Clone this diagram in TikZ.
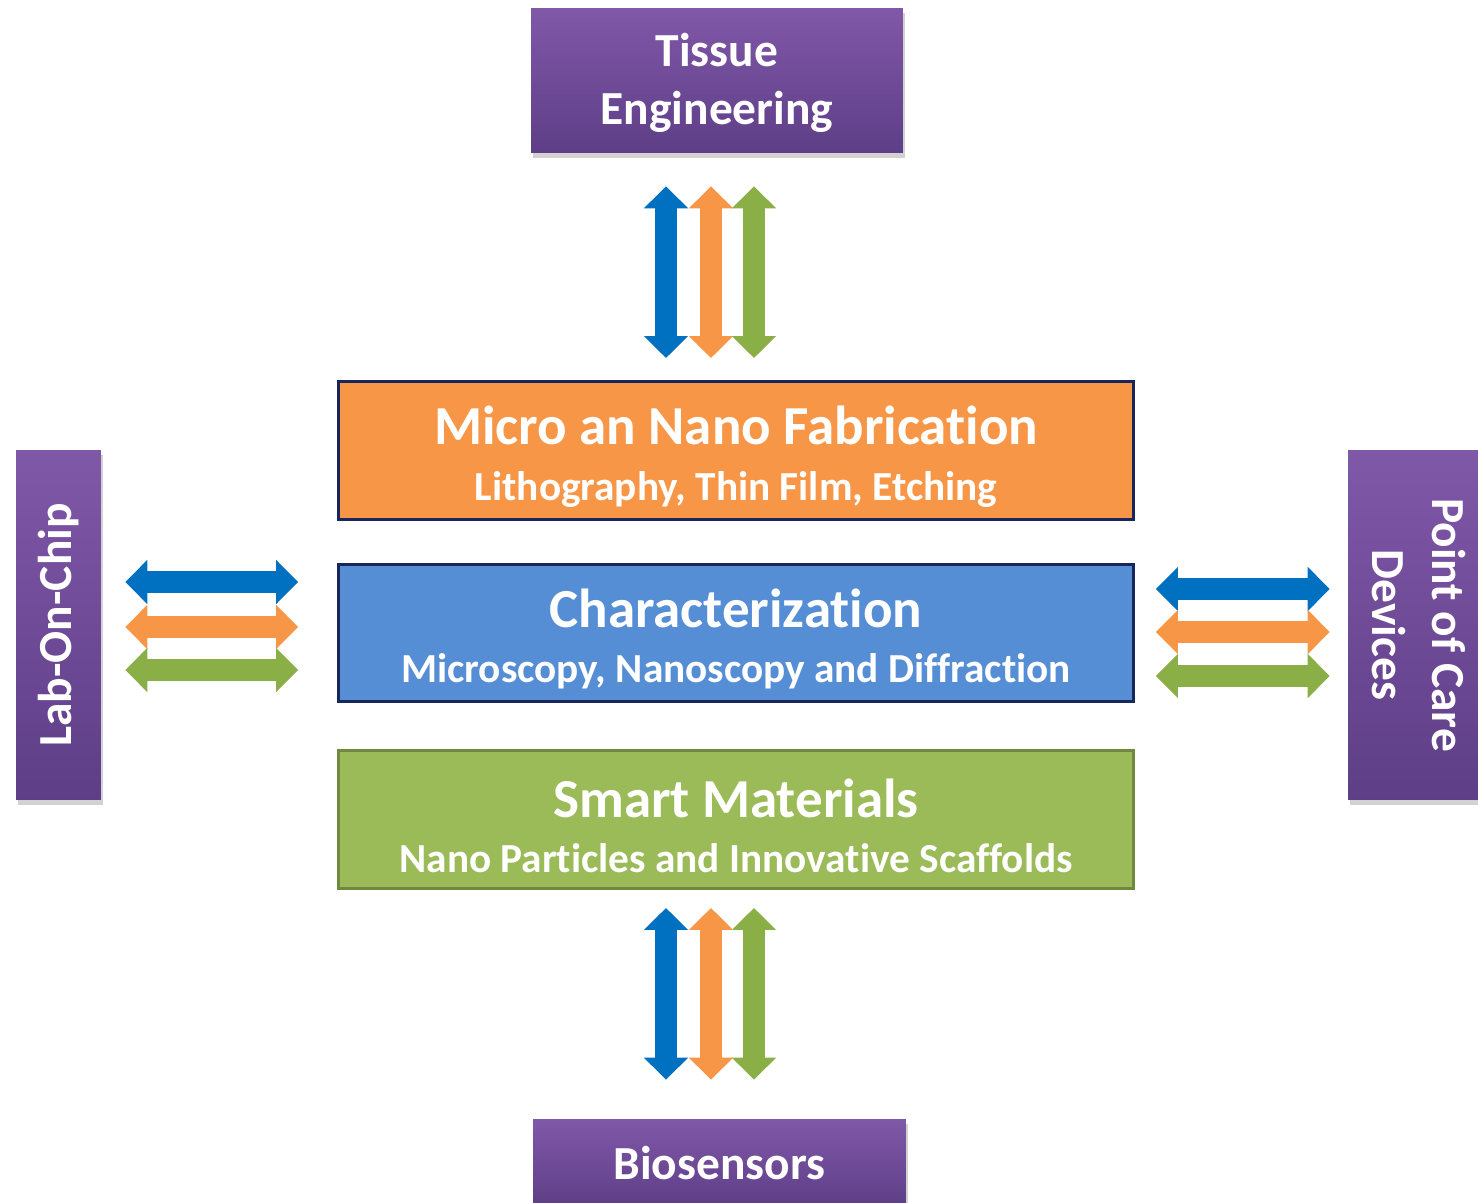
\documentclass[tikz,border=0pt]{standalone}
\usepackage{fontspec}
\setmainfont[Ligatures=NoCommon]{Carlito}
\usepackage{tikz}
\usetikzlibrary{arrows.meta,shadows,positioning,calc}

\definecolor{appTop}{RGB}{128,88,168}
\definecolor{appBot}{RGB}{94,62,135}
\definecolor{fabFill}{RGB}{247,150,70}
\definecolor{charFill}{RGB}{85,142,213}
\definecolor{smartFill}{RGB}{155,187,89}
\definecolor{smartEdge}{RGB}{113,137,63}
\definecolor{coreEdge}{RGB}{24,38,92}
\definecolor{linkBlue}{RGB}{0,112,192}
\definecolor{linkOrange}{RGB}{247,150,70}
\definecolor{linkGreen}{RGB}{138,175,70}

% title and subtitle of a centre box
\newcommand{\coretext}[2]{{\fontsize{31.3}{31}\selectfont\rule{0pt}{29pt}#1}\\{\fontsize{23.5}{23}\selectfont #2}}

\begin{document}
\begin{tikzpicture}[x=0.02cm, y=-0.02cm]
	\tikzstyle{App}		= [rectangle, top color=appTop, bottom color=appBot, text=white, align=center,
							font=\bfseries\fontsize{27}{33}\selectfont,
							drop shadow={opacity=0.35, shadow xshift=1pt, shadow yshift=-3pt}]
	\tikzstyle{Core}	= [rectangle, draw=coreEdge, line width=1.7pt, text=white, align=center,
							minimum width=15.9cm, minimum height=2.76cm, inner sep=0pt,
							font=\bfseries\fontsize{31}{31.5}\selectfont]
	\tikzstyle{Link}	= [line width=0.44cm, {Triangle[width=0.86cm,length=0.44cm]}-{Triangle[width=0.86cm,length=0.44cm]}]

	\path[use as bounding box, fill=white] (0,0) rectangle (1478,1203);

	% centre column
	\node (fab) at (736,450.5) [Core, fill=fabFill]
		{\coretext{Micro an Nano Fabrication}{Lithography, Thin Film, Etching}};
	\node (char) at (736,633) [Core, fill=charFill]
		{\coretext{Characterization}{Microscopy, Nanoscopy and Diffraction}};
	\node (smart) at (736,819.5) [Core, fill=smartFill, draw=smartEdge]
		{\coretext{Smart Materials}{Nano Particles and Innovative Scaffolds}};

	% applications round it
	\node (tissue) at (717,80.5) [App, minimum width=7.44cm, minimum height=2.9cm] {\rule{0pt}{21.5pt}Tissue\\Engineering};
	\node (bio) at (719.5,1163) [App, minimum width=7.46cm, minimum height=1.76cm] {Biosensors};
	\node (lab) at (58.5,625) [App, rotate=90, minimum width=7cm, minimum height=1.7cm] {Lab-On-Chip};
	\node (point) at (1419,625) [App, rotate=-90, minimum width=7cm, minimum height=2.84cm,
		font=\bfseries\fontsize{27}{34}\selectfont] {Point of Care\\Devices};

	% double arrows between the rows
	\foreach \c/\d in {linkBlue/-70, linkOrange/-25, linkGreen/18} {
		\draw [Link, \c, shorten <=0.66cm, shorten >=0.44cm] ($(fab.north |- tissue.south)+(\d,0)$) -- ($(fab.north)+(\d,0)$);
		\draw [Link, \c, shorten <=0.36cm, shorten >=0.78cm] ($(smart.south)+(\d,0)$) -- ($(smart.south |- bio.north)+(\d,0)$);
	}
	\foreach \c/\d in {linkBlue/-51, linkOrange/-6, linkGreen/37}
		\draw [Link, \c, shorten <=0.48cm, shorten >=0.78cm] ($(lab.south |- char.west)+(0,\d)$) -- ($(char.west)+(0,\d)$);
	\foreach \c/\d in {linkBlue/-44, linkOrange/-1, linkGreen/43}
		\draw [Link, \c, shorten <=0.42cm, shorten >=0.36cm] ($(char.east)+(0,\d)$) -- ($(point.south |- char.east)+(0,\d)$);
\end{tikzpicture}
\end{document}
